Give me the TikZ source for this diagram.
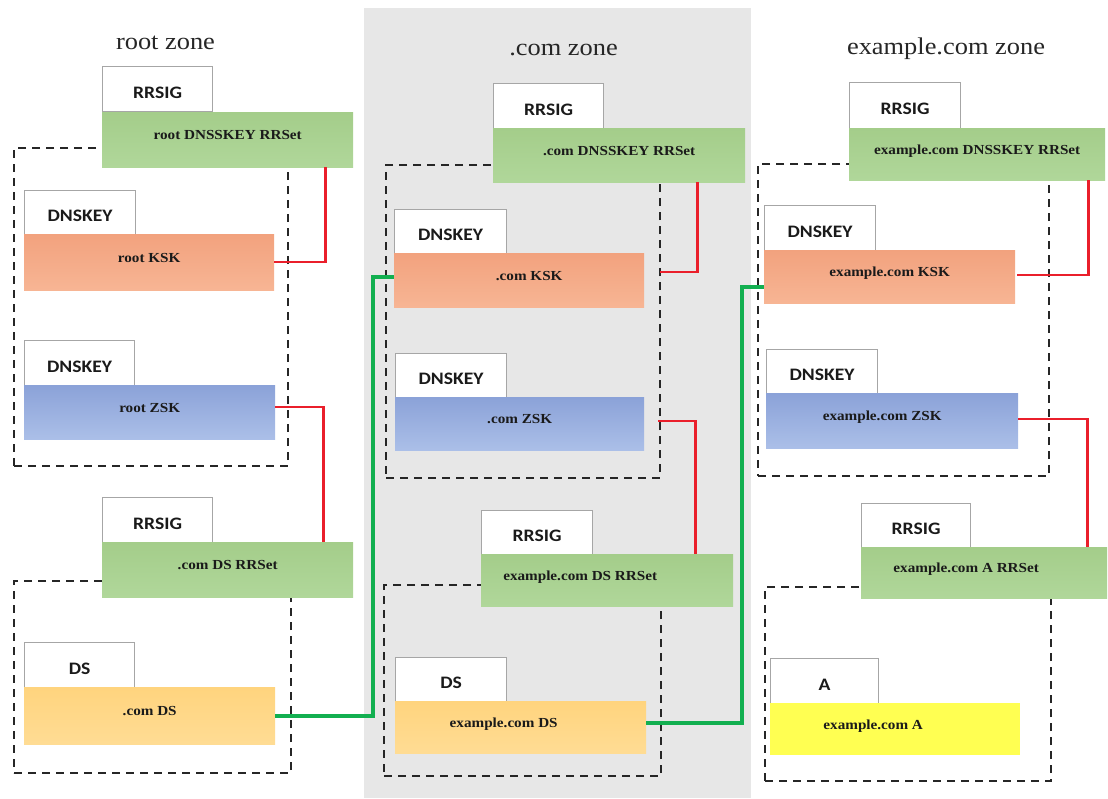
\documentclass[tikz,border=0pt]{standalone}
\usepackage{fontspec}
\setmainfont{Liberation Serif}[FakeStretch=1.1]
\newfontfamily\tagfont{Carlito}[FakeStretch=1.12]

\definecolor{zonegray}{HTML}{E7E7E7}
\definecolor{tagedge}{HTML}{A6A6A6}
\definecolor{setgreenA}{HTML}{A4CD8A}
\definecolor{setgreenB}{HTML}{B0D79A}
\definecolor{kskA}{HTML}{F2A27E}
\definecolor{kskB}{HTML}{F7B594}
\definecolor{zskA}{HTML}{8BA2D8}
\definecolor{zskB}{HTML}{ABBFE8}
\definecolor{dsA}{HTML}{FFD47E}
\definecolor{dsB}{HTML}{FFDC94}
\definecolor{arec}{HTML}{FFFF52}
\definecolor{sigred}{HTML}{EA1F2B}
\definecolor{chaingreen}{HTML}{12AF50}
\definecolor{inktext}{HTML}{1A1A1A}

\begin{document}
\begin{tikzpicture}[x=1pt,y=-1pt,
  zonetitle/.style={anchor=base, font=\fontsize{24}{28}\selectfont, text=black!85},
  tagbox/.style={draw=tagedge, line width=1.2pt, fill=white, anchor=north west,
    minimum width=110pt, minimum height=45pt, inner sep=0pt,
    text height=18pt, text depth=0pt, text=inktext,
    font=\tagfont\bfseries\fontsize{17.5}{20}\selectfont},
  recbox/.style={anchor=north west, minimum width=251pt, minimum height=54pt,
    inner sep=0pt, text height=9pt, text depth=9pt, text=inktext,
    font=\bfseries\fontsize{13.8}{16}\selectfont},
  rrset/.style={recbox, top color=setgreenA, bottom color=setgreenB},
  ksk/.style={recbox, top color=kskA, bottom color=kskB},
  zsk/.style={recbox, top color=zskA, bottom color=zskB},
  dsrec/.style={recbox, top color=dsA, bottom color=dsB},
  arecbox/.style={recbox, fill=arec},
  keyzone/.style={draw=black!85, line width=2.2pt, dash pattern=on 8pt off 6pt,
    anchor=north west, inner sep=0pt},
  sigline/.style={draw=sigred, line width=2.3pt},
  chain/.style={draw=chaingreen, line width=4pt},
  nudge/.style={execute at begin node={\hspace*{#1}}}
]
\useasboundingbox (0,0) rectangle (1108,798);

% shaded column of the .com zone
\fill[zonegray] (364,8) rectangle (751,798);

% zone titles
\node[zonetitle] (t1) at (165.5,49) {root zone};
\node[zonetitle] (t2) at (563.5,55) {.com zone};
\node[zonetitle] (t3) at (946,54) {example.com zone};

% dashed groups
\node[keyzone, minimum width=274pt, minimum height=318pt] (kz1) at (13,147) {};
\node[keyzone, minimum width=277pt, minimum height=192pt] (kz2) at (13,580) {};
\node[keyzone, minimum width=274pt, minimum height=313pt] (kz3) at (385,164) {};
\node[keyzone, minimum width=277pt, minimum height=191pt] (kz4) at (383,584) {};
\node[keyzone, minimum width=291pt, minimum height=312pt] (kz5) at (757,163) {};
\node[keyzone, minimum width=286pt, minimum height=194pt] (kz6) at (764,586) {};

% root zone records
\node[tagbox] (rs1) at (102,66) {RRSIG};
\node[rrset, minimum height=55pt] (rrs1) at (102,112) {root DNSSKEY RRSet};
\node[tagbox, minimum width=111pt, minimum height=44pt] (dk1) at (24,190) {DNSKEY};
\node[ksk, minimum width=250pt, minimum height=56pt] (ksk1) at (24,234) {root KSK};
\node[tagbox] (dk2) at (24,340) {DNSKEY};
\node[zsk] (zsk1) at (24,385) {root ZSK};
\node[tagbox] (rs2) at (102,497) {RRSIG};
\node[rrset, minimum height=55pt] (rrs2) at (102,542) {.com DS RRSet};
\node[tagbox] (dst1) at (24,642) {DS};
\node[dsrec, minimum height=57pt] (ds1) at (24,687) {.com DS};

% .com zone records
\node[tagbox] (rs3) at (493,83) {RRSIG};
\node[rrset, minimum width=252pt] (rrs3) at (493,128) {.com DNSSKEY RRSet};
\node[tagbox, minimum width=112pt, minimum height=44pt] (dk3) at (394,209) {DNSKEY};
\node[ksk, minimum width=250pt, nudge=20pt] (ksk2) at (394,253) {.com KSK};
\node[tagbox, minimum width=111pt, minimum height=44pt] (dk4) at (395,353) {DNSKEY};
\node[zsk, minimum width=249pt, minimum height=53pt] (zsk2) at (395,397) {.com ZSK};
\node[tagbox, minimum width=111pt, minimum height=44pt] (rs4) at (481,510) {RRSIG};
\node[rrset, minimum width=252pt, minimum height=52pt, nudge=-54pt] (rrs4) at (481,554) {example.com DS RRSet};
\node[tagbox, minimum width=111pt, minimum height=44pt] (dst2) at (395,657) {DS};
\node[dsrec, minimum height=52pt, nudge=-34pt] (ds2) at (395,701) {example.com DS};

% example.com zone records
\node[tagbox, minimum width=111pt, minimum height=46pt] (rs5) at (849,82) {RRSIG};
\node[rrset, minimum width=256pt, minimum height=52pt] (rrs5) at (849,128) {example.com DNSSKEY RRSet};
\node[tagbox, minimum width=111pt] (dk5) at (764,205) {DNSKEY};
\node[ksk, minimum height=53pt] (ksk3) at (764,250) {example.com KSK};
\node[tagbox, minimum width=111pt, minimum height=44pt] (dk6) at (766,349) {DNSKEY};
\node[zsk, minimum width=252pt, minimum height=55pt, nudge=-20pt] (zsk3) at (766,393) {example.com ZSK};
\node[tagbox, minimum width=109pt, minimum height=44pt] (rs6) at (861,503) {RRSIG};
\node[rrset, minimum width=246pt, minimum height=51pt, nudge=-36pt] (rrs6) at (861,547) {example.com A RRSet};
\node[tagbox, minimum width=108pt] (atag) at (770,658) {A};
\node[arecbox, minimum width=250pt, minimum height=52pt, nudge=-44pt] (arr) at (770,703) {example.com A};

% signing links
\draw[sigline] (ksk1.east) -| ([xshift=-28pt]rrs1.south east);
\draw[sigline] ([yshift=5pt]zsk1.east) -| ([xshift=-30pt]rrs2.north east);
\draw[sigline] ([xshift=16pt,yshift=8pt]ksk2.east) -| ([xshift=-48pt]rrs3.south east);
\draw[sigline] ([xshift=14pt,yshift=3pt]zsk2.east) -| ([xshift=-38pt]rrs4.north east);
\draw[sigline] ([xshift=2pt,yshift=2pt]ksk3.east) -| ([xshift=-17pt]rrs5.south east);
\draw[sigline] ([yshift=2pt]zsk3.east) -| ([xshift=-20pt]rrs6.north east);

% chain of trust
\draw[chain] (ds1.east) -| ([xshift=-21pt,yshift=3pt]ksk2.west) -- ([yshift=3pt]ksk2.west);
\draw[chain] ([yshift=4pt]ds2.east) -| ([xshift=-22pt,yshift=-10pt]ksk3.west) -- ([yshift=-10pt]ksk3.west);
\end{tikzpicture}
\end{document}
